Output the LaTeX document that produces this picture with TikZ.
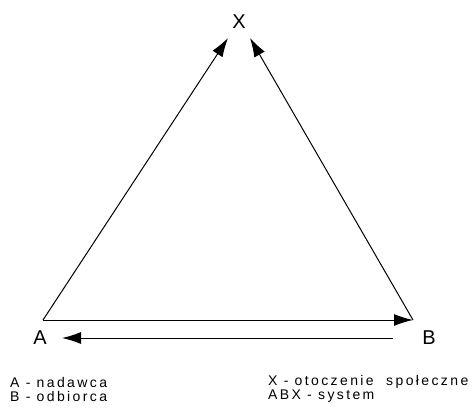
\documentclass[tikz,border=0pt]{standalone}
\usepackage{fontspec}
\setmainfont{Liberation Sans}
\newfontfamily\legendfont[LetterSpace=17]{Liberation Sans}
\usetikzlibrary{arrows.meta}
\begin{document}
\begin{tikzpicture}[x=1pt,y=-1pt,
  conn/.style={line width=1pt,-{Latex[length=19pt,width=12pt]}},
  big/.style={font=\fontsize{20}{20}\selectfont, inner sep=0pt},
  legend/.style={font=\legendfont\fontsize{14}{15}\selectfont, inner sep=0pt, anchor=west, align=left}]
\useasboundingbox (0,0) rectangle (473,410);
\coordinate (Acorner) at (43,320);
\coordinate (Bcorner) at (413,320);
\coordinate (Xleft) at (228,38);
\coordinate (Xright) at (250,38);
\coordinate (Bstart) at (393,338);
\coordinate (Aend) at (62,338);
\node[big] (X) at (239,22) {X};
\node[big] (A) at (40,338) {A};
\node[big] (B) at (429,338) {B};
\draw[conn] (Acorner) -- (Xleft);
\draw[conn] (Bcorner) -- (Xright);
\draw[conn] (Acorner) -- (Bcorner);
\draw[conn] (Bstart) -- (Aend);
\node[legend] (L1) at (10,382) {A - nadawca};
\node[legend] (L2) at (10,396) {B - odbiorca};
\node[legend] (L3) at (268,382) {X - otoczenie \ społeczne};
\node[legend] (L4) at (268,396) {ABX - system};
\end{tikzpicture}
\end{document}
